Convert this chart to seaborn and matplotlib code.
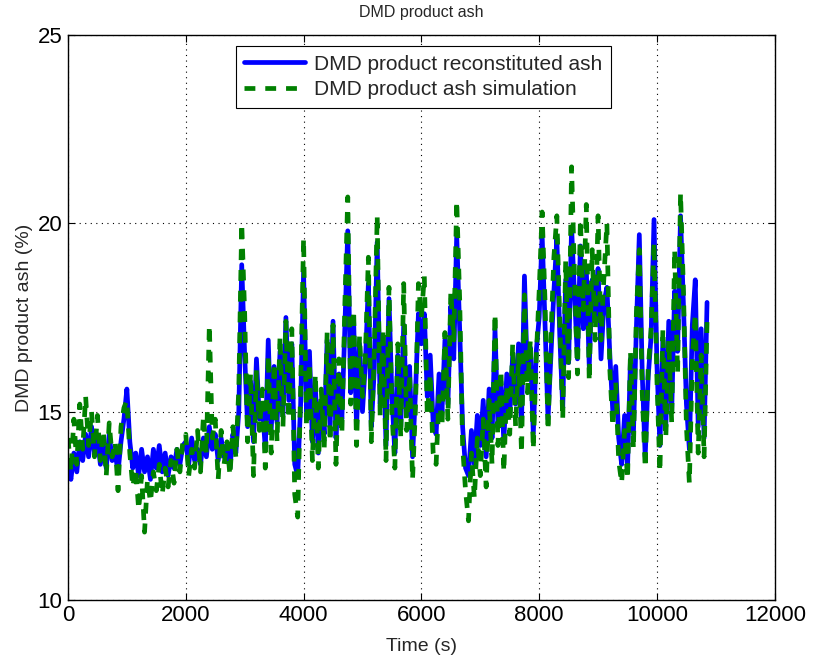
import numpy as np
import pandas as pd
import matplotlib
matplotlib.use("Agg")
import matplotlib.pyplot as plt
import seaborn as sns

# Sampling period of the ash records (s)
time_s = np.arange(0, 10851, 50)

# DMD product reconstituted ash (%)
reconstituted_ash = [
    13.6, 13.2, 13.9, 13.4, 14.2, 13.7, 14.4, 13.8, 14.6, 13.9, 14.3, 13.6, 14.1, 13.5, 14.4, 13.7, 13.9, 13.4, 14.2, 14.8,
    15.6, 14.2, 13.5, 13.9, 13.3, 14.0, 13.4, 13.8, 13.2, 14.0, 13.5, 14.1, 13.4, 13.9, 13.3, 13.8, 13.5, 14.0, 13.6, 14.1,
    14.2, 13.6, 14.3, 13.7, 14.0, 13.6, 14.3, 13.8, 14.6, 14.0, 14.4, 13.7, 14.3, 13.8, 14.1, 13.5, 14.4, 13.9, 15.0, 18.9,
    16.5, 14.6, 15.8, 14.2, 16.4, 14.8, 15.2, 14.0, 16.9, 14.5, 16.2, 14.7, 16.6, 14.9, 17.5, 15.3, 16.8, 13.6, 13.3, 15.2,
    18.7, 15.0, 16.6, 14.2, 15.7, 13.9, 15.3, 14.4, 16.9, 14.6, 17.4, 14.3, 16.0, 14.8, 17.2, 19.8, 15.5, 17.4, 14.6, 16.8,
    15.0, 16.3, 18.4, 14.6, 16.1, 19.5, 15.2, 17.0, 14.1, 18.0, 15.4, 13.9, 16.5, 14.6, 17.3, 14.9, 16.2, 13.8, 15.5, 17.6,
    16.8, 17.6, 15.4, 16.5, 14.7, 14.4, 16.0, 15.0, 16.9, 15.2, 17.8, 16.4, 19.7, 17.2, 14.6, 13.5, 13.3, 14.5, 13.6, 14.9,
    14.1, 15.3, 13.8, 15.6, 14.3, 17.2, 14.6, 15.8, 14.2, 16.0, 14.9, 16.5, 15.2, 16.8, 14.7, 18.6, 15.9, 16.7, 14.4, 16.6,
    17.5, 19.7, 17.3, 14.8, 16.5, 18.2, 19.6, 17.0, 15.1, 18.5, 16.3, 19.9, 18.1, 16.4, 19.4, 17.2, 18.8, 16.2, 18.5, 17.4,
    18.8, 16.4, 17.9, 18.3, 16.5, 15.0, 16.2, 14.3, 13.6, 14.9, 13.5, 16.4, 14.4, 17.2, 19.7, 16.0, 13.8, 15.9, 17.0, 20.1,
    16.2, 14.1, 16.9, 14.6, 17.4, 15.0, 18.2, 16.6, 20.2, 17.8, 15.2, 14.0, 17.3, 18.5, 14.6, 17.2, 14.3, 17.9,
]

# DMD product ash simulation (%)
simulated_ash = [
    14.3, 13.4, 14.8, 13.6, 15.2, 14.0, 15.4, 14.1, 15.0, 13.8, 14.9, 13.7, 14.5, 13.3, 14.7, 13.8, 14.2, 12.9, 14.6, 15.1,
    15.3, 13.9, 13.0, 13.5, 12.4, 13.3, 11.8, 13.2, 12.6, 13.4, 12.9, 13.6, 12.8, 13.5, 13.0, 13.7, 13.1, 14.0, 13.4, 14.2,
    14.4, 13.3, 14.0, 13.5, 14.5, 13.4, 14.9, 13.9, 17.3, 14.3, 14.8, 13.2, 14.5, 13.6, 14.2, 13.3, 14.6, 13.8, 15.6, 20.0,
    17.6, 14.2, 16.0, 13.3, 16.1, 14.5, 15.6, 13.5, 16.5, 13.9, 16.3, 14.2, 17.0, 14.6, 17.4, 14.8, 17.2, 12.8, 12.2, 15.6,
    19.6, 14.6, 16.3, 13.7, 16.0, 13.5, 15.6, 14.0, 17.1, 14.2, 17.3, 13.6, 16.4, 14.4, 17.8, 20.7, 15.2, 17.7, 14.1, 17.0,
    15.4, 16.5, 19.1, 14.2, 16.6, 20.2, 14.9, 17.2, 13.7, 18.3, 15.0, 13.5, 16.8, 14.3, 18.4, 14.5, 16.0, 13.2, 15.1, 18.4,
    17.5, 18.6, 14.9, 16.0, 13.9, 13.6, 15.4, 14.6, 17.1, 14.8, 18.2, 16.9, 20.6, 18.0, 14.1, 12.9, 12.1, 13.9, 12.7, 14.3,
    13.3, 14.8, 13.0, 15.3, 13.6, 17.6, 14.1, 16.1, 13.4, 15.7, 14.4, 16.8, 14.6, 16.5, 13.9, 18.1, 15.5, 16.9, 14.0, 16.4,
    18.2, 20.3, 17.9, 14.5, 17.0, 19.1, 20.2, 17.4, 14.8, 19.0, 15.9, 21.5, 18.6, 16.0, 20.1, 17.7, 20.5, 15.8, 19.3, 16.9,
    20.2, 16.9, 18.6, 20.0, 16.1, 14.6, 15.8, 13.7, 13.1, 14.5, 13.2, 16.6, 14.0, 17.6, 19.3, 15.5, 13.5, 16.1, 17.2, 19.5,
    15.8, 13.4, 17.2, 14.3, 16.9, 14.7, 19.3, 16.0, 20.8, 18.2, 14.6, 13.1, 16.4, 17.6, 13.9, 16.5, 13.8, 17.4,
]

x_ticks = [0, 2000, 4000, 6000, 8000, 10000, 12000]
y_ticks = [10, 15, 20, 25]

df = pd.DataFrame({
    "Time (s)": time_s,
    "reconstituted": reconstituted_ash,
    "simulation": simulated_ash,
})

sns.set_style("ticks")
plt.rcParams["font.family"] = ["Liberation Sans", "DejaVu Sans"]

fig = plt.figure(figsize=(8.19, 6.6), dpi=100)
ax = fig.add_axes([0.083, 0.091, 0.863, 0.856])

sns.lineplot(data=df, x="Time (s)", y="reconstituted", ax=ax, estimator=None,
             color="#0000ff", linewidth=3.4, label="DMD product reconstituted ash")
sns.lineplot(data=df, x="Time (s)", y="simulation", ax=ax, estimator=None,
             color="#008000", linewidth=3.4, label="DMD product ash simulation")
ax.lines[1].set_dashes([2.3, 2.1])

ax.set_xlim(0, 12000)
ax.set_ylim(10, 25)
ax.set_xticks(x_ticks)
ax.set_yticks(y_ticks)
ax.tick_params(direction="in", length=5, width=0.8, top=True, right=True,
               labelsize=16, pad=4, colors="black")
ax.grid(True, linestyle=(0, (1, 4)), color="black", linewidth=0.8)
for s in ax.spines.values():
    s.set_visible(True)
    s.set_linewidth(1.0)
    s.set_color("black")

ax.set_xlabel("Time (s)", fontsize=14, labelpad=8)
ax.set_ylabel("DMD product ash (%)", fontsize=14, labelpad=3)
ax.set_title("DMD product ash", fontsize=11.5, pad=13)

leg = ax.legend(loc="upper center", bbox_to_anchor=(0.503, 0.9805), fontsize=15,
                frameon=True, fancybox=False, framealpha=1, edgecolor="black",
                handlelength=2.9, handletextpad=0.45, borderpad=0.42,
                labelspacing=0.32, borderaxespad=0.0)
leg.get_frame().set_linewidth(0.8)

fig.savefig("out.png", dpi=100)
